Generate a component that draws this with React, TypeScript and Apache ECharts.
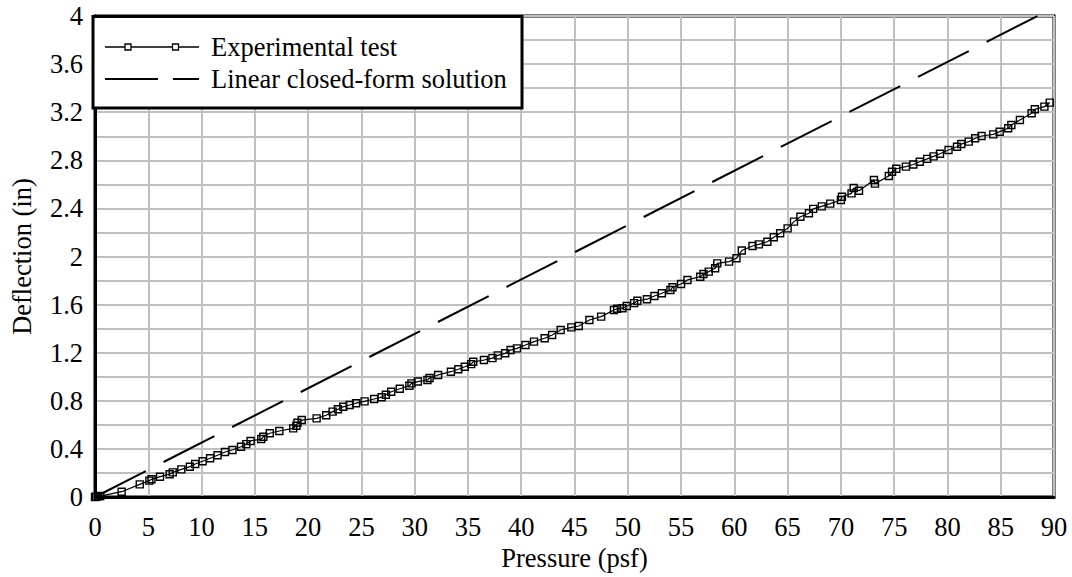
import React, { useEffect, useRef } from "react";
import * as echarts from "echarts";

const expX: number[] = [
  0, 0.1, 0.3, 0.5, 2.5, 4.2, 5.1, 5.3, 6.1, 7.0, 7.3, 8.1, 8.9, 9.4, 10.1, 10.8, 11.5, 12.2, 12.9, 13.7,
  14.2, 14.6, 15.6, 15.8, 16.4, 17.3, 18.6, 18.9, 19.0, 19.4, 20.8, 21.7, 22.3, 22.8, 23.3, 23.9, 24.5, 25.3,
  26.2, 26.9, 27.3, 27.8, 28.6, 29.5, 29.7, 30.3, 31.2, 31.4, 32.2, 33.4, 34.1, 34.7, 35.3, 35.5, 36.5, 37.3,
  37.8, 38.5, 39.0, 39.6, 40.4, 41.2, 42.2, 42.9, 43.7, 44.7, 45.4, 46.4, 47.5, 48.7, 49.0, 49.5, 49.9, 50.6,
  50.9, 51.8, 52.5, 53.2, 54.0, 54.2, 55.0, 55.6, 56.8, 57.1, 57.6, 58.2, 58.4, 59.5, 60.2, 60.7, 61.7, 62.3,
  63.1, 63.7, 64.3, 65.0, 65.6, 66.2, 67.0, 67.4, 68.2, 69.0, 70.0, 70.1, 71.0, 71.2, 71.7, 73.1, 73.2, 74.5,
  74.8, 75.2, 76.1, 76.8, 77.4, 78.1, 78.7, 79.3, 80.1, 80.9, 81.3, 82.0, 82.6, 83.2, 84.3, 84.9, 85.7, 86.0,
  86.8, 87.9, 88.2, 89.1, 89.6,
];
const expY: number[] = [
  0, 0.002, 0.005, 0.008, 0.044, 0.105, 0.136, 0.147, 0.169, 0.189, 0.205, 0.23, 0.252, 0.274, 0.297, 0.322, 0.347, 0.374, 0.391, 0.418,
  0.44, 0.466, 0.482, 0.501, 0.53, 0.549, 0.571, 0.593, 0.618, 0.64, 0.654, 0.68, 0.71, 0.73, 0.75, 0.765, 0.78, 0.795,
  0.815, 0.83, 0.85, 0.875, 0.9, 0.925, 0.945, 0.96, 0.973, 0.99, 1.015, 1.042, 1.062, 1.083, 1.105, 1.125, 1.139, 1.155,
  1.178, 1.195, 1.222, 1.236, 1.264, 1.292, 1.32, 1.347, 1.389, 1.411, 1.422, 1.472, 1.5, 1.555, 1.565, 1.57, 1.588, 1.612,
  1.632, 1.645, 1.671, 1.694, 1.721, 1.744, 1.771, 1.805, 1.832, 1.855, 1.874, 1.902, 1.943, 1.957, 1.985, 2.05, 2.087, 2.101,
  2.123, 2.16, 2.193, 2.234, 2.29, 2.33, 2.36, 2.396, 2.417, 2.44, 2.47, 2.497, 2.525, 2.57, 2.547, 2.636, 2.606, 2.669,
  2.705, 2.73, 2.747, 2.765, 2.788, 2.812, 2.833, 2.855, 2.886, 2.913, 2.935, 2.955, 2.983, 3.002, 3.016, 3.038, 3.066, 3.094,
  3.135, 3.191, 3.224, 3.246, 3.28,
];

const linX: number[] = [0, 90];
const linY: number[] = [0, 4.07];

const xTicks: number[] = [0, 5, 10, 15, 20, 25, 30, 35, 40, 45, 50, 55, 60, 65, 70, 75, 80, 85, 90];
const yTickLabels: string[] = ["0", "0.4", "0.8", "1.2", "1.6", "2", "2.4", "2.8", "3.2", "3.6", "4"];

const seriesNames: string[] = ["Experimental test", "Linear closed-form solution"];
const axisNames: string[] = ["Pressure (psf)", "Deflection (in)"];

const FONT = "Liberation Serif, Times New Roman, serif";
const FS = 26.5;
const LFS = 26.5;

export default function App() {
  const ref = useRef<HTMLDivElement>(null);
  useEffect(() => {
    if (!ref.current) return;
    const chart = echarts.init(ref.current, undefined, { renderer: "svg" });
    const expData = expX.map((x, i) => [x, expY[i]]);
    const linData = linX.map((x, i) => [x, linY[i]]);
    const Z = 100;
    chart.setOption({
      animation: false,
      backgroundColor: "#ffffff",
      textStyle: { fontFamily: FONT },
      grid: {
        left: 93, right: 18, top: 16, bottom: 80,
        show: true, borderColor: "#000", borderWidth: 3, backgroundColor: "transparent",
      },
      xAxis: {
        type: "value",
        min: xTicks[0],
        max: xTicks[xTicks.length - 1],
        interval: 5,
        name: axisNames[0],
        nameLocation: "middle",
        nameGap: 47,
        nameTextStyle: { color: "#000", fontSize: FS, fontFamily: FONT },
        axisLine: { show: true, lineStyle: { color: "#000", width: 3 } },
        axisTick: { show: false },
        axisLabel: { color: "#000", fontSize: FS, fontFamily: FONT, margin: 16 },
        splitLine: { show: true, lineStyle: { color: "#c0c0c0", width: 2 } },
      },
      yAxis: {
        type: "value",
        min: 0,
        max: 4,
        interval: 0.2,
        name: axisNames[1],
        nameLocation: "middle",
        nameGap: 60,
        nameTextStyle: { color: "#000", fontSize: FS, fontFamily: FONT },
        axisLine: { show: true, lineStyle: { color: "#000", width: 3 } },
        axisTick: { show: false },
        axisLabel: {
          color: "#000", fontSize: FS, fontFamily: FONT, margin: 12,
          formatter: (v: number) => {
            const k = Math.round(v * 10);
            if (k % 4 !== 0) return "";
            return yTickLabels[k / 4] ?? "";
          },
        },
        splitLine: { show: true, lineStyle: { color: "#c0c0c0", width: 2 } },
      },
      series: [
        {
          name: seriesNames[1],
          type: "line",
          data: linData,
          showSymbol: false,
          symbol: "none",
          clip: true,
          lineStyle: { color: "#000", width: 2, type: [57, 20] },
          z: 2,
        },
        {
          name: seriesNames[0],
          type: "line",
          data: expData,
          symbol: "rect",
          symbolSize: 7,
          showAllSymbol: true,
          clip: true,
          lineStyle: { color: "#000", width: 1.2 },
          itemStyle: { color: "rgba(255,255,255,0)", borderColor: "#000", borderWidth: 1.4 },
          z: 3,
        },
      ],
      graphic: [
        { type: "rect", z: Z, shape: { x: 93, y: 16.5, width: 429, height: 91.5 }, style: { fill: "#fff", stroke: "#000", lineWidth: 3 } },
        { type: "line", z: Z + 1, shape: { x1: 105, y1: 47, x2: 199, y2: 47 }, style: { stroke: "#000", lineWidth: 1.3 } },
        { type: "rect", z: Z + 2, shape: { x: 125, y: 44, width: 6, height: 6 }, style: { fill: "#fff", stroke: "#000", lineWidth: 1.3 } },
        { type: "rect", z: Z + 2, shape: { x: 172.5, y: 44, width: 6, height: 6 }, style: { fill: "#fff", stroke: "#000", lineWidth: 1.3 } },
        { type: "text", z: Z + 1, x: 211, y: 47, style: { text: seriesNames[0], fill: "#000", fontSize: LFS, fontFamily: FONT, verticalAlign: "middle", align: "left" } },
        { type: "line", z: Z + 1, shape: { x1: 105, y1: 79, x2: 158, y2: 79 }, style: { stroke: "#000", lineWidth: 2 } },
        { type: "line", z: Z + 1, shape: { x1: 173, y1: 79, x2: 199, y2: 79 }, style: { stroke: "#000", lineWidth: 2 } },
        { type: "text", z: Z + 1, x: 211, y: 79, style: { text: seriesNames[1], fill: "#000", fontSize: LFS, fontFamily: FONT, verticalAlign: "middle", align: "left" } },
      ],
    });
    return () => chart.dispose();
  }, []);
  return <div ref={ref} style={{ position: "fixed", left: 0, top: 0, width: 1072, height: 577 }} />;
}
